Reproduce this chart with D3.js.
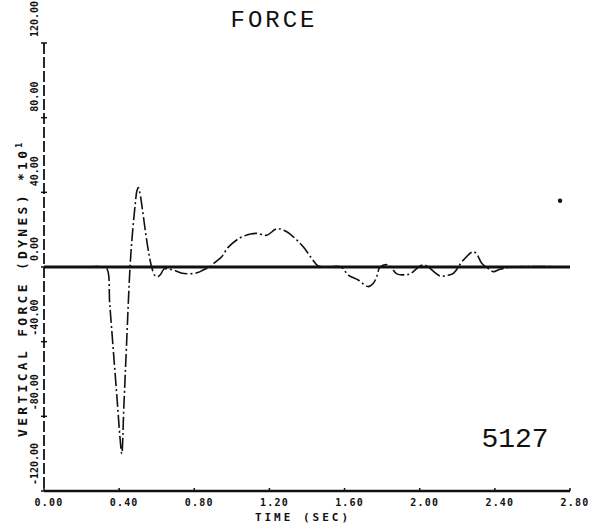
<!DOCTYPE html>
<html>
<head>
<meta charset="utf-8">
<script src="https://cdn.jsdelivr.net/npm/d3@7"></script>
<style>
	body { margin: 0; background: #fff; }
	svg { display: block; }
	.tick-label { font-family: "DejaVu Sans Mono", monospace; font-weight: bold; font-size: 10px; fill: #111; }
	.axis-title { font-family: "DejaVu Sans Mono", monospace; font-weight: bold; fill: #111; }
	.plot-title { font-family: "Liberation Mono", "Courier New", monospace; fill: #111; }
</style>
</head>
<body>
<div id="chart"></div>
<script>
// trace: time (sec) and vertical force (dynes *10)
const timeSec = [0.00, 0.20, 0.31, 0.335, 0.35, 0.37, 0.39, 0.405, 0.414, 0.425, 0.44, 0.458,
	0.47, 0.485, 0.495, 0.502, 0.51, 0.525, 0.54, 0.555, 0.573, 0.59, 0.605, 0.62, 0.64,
	0.66, 0.70, 0.73, 0.78, 0.82, 0.85, 0.884, 0.91, 0.946, 0.98, 1.04, 1.10, 1.135, 1.185,
	1.24, 1.29, 1.345, 1.38, 1.425, 1.46, 1.50, 1.58, 1.62, 1.673, 1.726, 1.753, 1.771, 1.789,
	1.833, 1.878, 1.915, 1.948, 2.019, 2.108, 2.145, 2.179, 2.232, 2.285, 2.303, 2.33, 2.36,
	2.392, 2.427, 2.50, 2.80];
const forceVal = [0, 0, 0, -1, -20, -46, -72, -92, -100, -75, -40, 0,
	17, 33, 41, 42.5, 40, 30, 19, 9, 0, -4.5, -5.2, -4, -1,
	-1, -2, -3.2, -3.6, -3, -1.5, 0, 2.5, 5.5, 10.5, 15.4, 17.7, 18, 17,
	20.5, 19, 14.5, 10.8, 4.6, 0.5, 0, 0, -4.3, -7, -10.5, -8.7, -5.2, 0,
	1.1, -3.7, -4.2, -3.7, 1.1, -4.8, -4.5, -3.4, 3.7, 8.2, 7, 2, -0.5,
	-2.5, -1.2, 0, 0];
// isolated mark near the right edge
const strayTime = [2.747];
const strayForce = [35.5];

const xTicks = [0, 0.4, 0.8, 1.2, 1.6, 2.0, 2.4, 2.8];
const xTickLabels = ["0.00", "0.40", "0.80", "1.20", "1.60", "2.00", "2.40", "2.80"];
const yTicks = [120, 80, 40, 0, -40, -80, -120];
const yTickLabels = ["120.00", "80.00", "40.00", "0.00", "-40.00", "-80.00", "-120.00"];

const width = 592, height = 527;
const plotLeft = 44, plotRight = 570, plotTop = 43, plotBottom = 491;

const svg = d3.select('#chart').append('svg')
	.attr('width', width)
	.attr('height', height);

const x = d3.scaleLinear().domain([0, 2.8]).range([plotLeft, plotRight]);
const y = d3.scaleLinear().domain([-120, 120]).range([plotBottom, plotTop]);

// title
svg.append('text')
	.attr('class', 'plot-title')
	.attr('x', 274)
	.attr('y', 27)
	.attr('text-anchor', 'middle')
	.attr('font-size', 24)
	.attr('letter-spacing', 3)
	.text('FORCE');

// run number
svg.append('text')
	.attr('class', 'plot-title')
	.attr('x', 515)
	.attr('y', 447)
	.attr('text-anchor', 'middle')
	.attr('font-size', 28)
	.text('5127');

// y axis (broken line like the plotter copy)
const yAxis = svg.append('g');
yAxis.append('line')
	.attr('x1', plotLeft).attr('x2', plotLeft)
	.attr('y1', y(120)).attr('y2', y(-120))
	.attr('stroke', '#111')
	.attr('stroke-width', 1.8)
	.attr('stroke-dasharray', '11,3');
yAxis.selectAll('.ytick')
	.data(yTicks)
	.join('line')
	.attr('class', 'ytick')
	.attr('x1', plotLeft - 3).attr('x2', plotLeft + 3)
	.attr('y1', d => y(d)).attr('y2', d => y(d))
	.attr('stroke', '#111')
	.attr('stroke-width', 1.5);
yAxis.selectAll('.tick-label')
	.data(yTicks)
	.join('text')
	.attr('class', 'tick-label')
	.attr('transform', d => `translate(38,${y(d) - 6}) rotate(-90)`)
	.text((d, i) => yTickLabels[i]);

// x axis
const xAxis = svg.append('g');
xAxis.append('line')
	.attr('x1', plotLeft).attr('x2', plotRight)
	.attr('y1', plotBottom).attr('y2', plotBottom)
	.attr('stroke', '#111')
	.attr('stroke-width', 2.5);
xAxis.selectAll('.xtick')
	.data(xTicks)
	.join('line')
	.attr('class', 'xtick')
	.attr('x1', d => x(d)).attr('x2', d => x(d))
	.attr('y1', plotBottom).attr('y2', plotBottom - 3)
	.attr('stroke', '#111')
	.attr('stroke-width', 1.5);
xAxis.selectAll('.tick-label')
	.data(xTicks)
	.join('text')
	.attr('class', 'tick-label')
	.attr('x', d => x(d) + 5)
	.attr('y', 506)
	.attr('text-anchor', 'middle')
	.attr('letter-spacing', 1.2)
	.text((d, i) => xTickLabels[i]);

// axis titles
svg.append('text')
	.attr('class', 'axis-title')
	.attr('x', 303)
	.attr('y', 521)
	.attr('text-anchor', 'middle')
	.attr('font-size', 11)
	.attr('letter-spacing', 3)
	.text('TIME (SEC)');

const yTitle = svg.append('text')
	.attr('class', 'axis-title')
	.attr('transform', `translate(27,437) rotate(-90)`)
	.attr('font-size', 13)
	.attr('letter-spacing', 3.3);
yTitle.append('tspan').text('VERTICAL FORCE (DYNES) *10');
yTitle.append('tspan').attr('font-size', 8).attr('dy', -5).text('1');

// zero reference line
svg.append('line')
	.attr('x1', x(0)).attr('x2', x(2.8))
	.attr('y1', y(0)).attr('y2', y(0))
	.attr('stroke', '#111')
	.attr('stroke-width', 3);

// force trace
const trace = timeSec.map((t, i) => [t, forceVal[i]]);
const line = d3.line()
	.x(d => x(d[0]))
	.y(d => y(d[1]))
	.curve(d3.curveCatmullRom.alpha(0.5));

svg.append('path')
	.datum(trace)
	.attr('d', line)
	.attr('fill', 'none')
	.attr('stroke', '#111')
	.attr('stroke-width', 1.6)
	.attr('stroke-dasharray', '13,3,2,3');

svg.selectAll('.stray')
	.data(strayTime)
	.join('circle')
	.attr('class', 'stray')
	.attr('cx', d => x(d))
	.attr('cy', (d, i) => y(strayForce[i]))
	.attr('r', 2.2)
	.attr('fill', '#111');
</script>
</body>
</html>
